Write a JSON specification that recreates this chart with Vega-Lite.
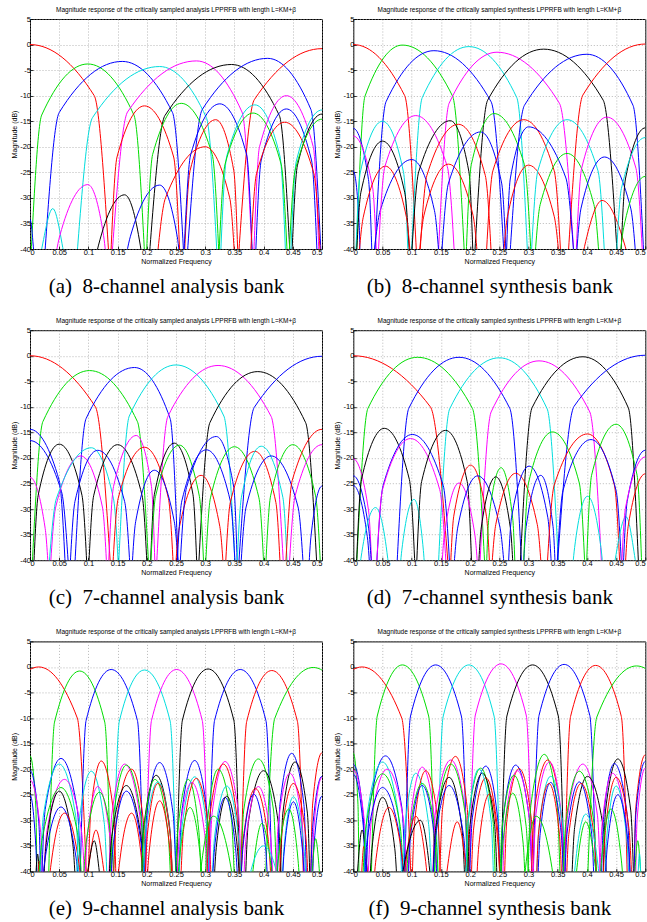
{
"$schema":"https://vega.github.io/schema/vega-lite/v6.json",
"padding":{"left":10,"top":6,"right":0,"bottom":0},
"background":"white",
"spacing":20.2,
"config":{
"view":{"stroke":"#000","strokeWidth":1},
"axis":{"grid":true,"gridDash":[1,2],"gridColor":"#999999","gridWidth":0.7,"domain":false,"tickSize":-3,"tickColor":"#000","tickWidth":0.8,"labelFont":"Liberation Sans","labelFontSize":7.5,"labelColor":"#000","labelPadding":2.5,"titleFont":"Liberation Sans","titleFontSize":7,"titleFontWeight":"normal","titleColor":"#000","titlePadding":2,"labelOverlap":false},
"axisX":{"titlePadding":1},
"title":{"font":"Liberation Sans","fontWeight":"normal","color":"#000"}
},
"datasets":{
"a":[
{"s":1,"c":"r","x":-0.137,"y":-45},{"s":1,"c":"r","x":-0.11,"y":-10},{"s":1,"c":"r","x":0,"y":0},{"s":1,"c":"r","x":0.11,"y":-10},{"s":1,"c":"r","x":0.137,"y":-45},
{"s":2,"c":"g","x":0,"y":-45},{"s":2,"c":"g","x":0.02,"y":-13.8},{"s":2,"c":"g","x":0.099,"y":-3.8},{"s":2,"c":"g","x":0.178,"y":-13.8},{"s":2,"c":"g","x":0.198,"y":-45},
{"s":3,"c":"b","x":0.023,"y":-45},{"s":3,"c":"b","x":0.05,"y":-13.3},{"s":3,"c":"b","x":0.158,"y":-3.3},{"s":3,"c":"b","x":0.244,"y":-13.3},{"s":3,"c":"b","x":0.265,"y":-45},
{"s":4,"c":"c","x":0.078,"y":-45},{"s":4,"c":"c","x":0.107,"y":-14.3},{"s":4,"c":"c","x":0.222,"y":-4.3},{"s":4,"c":"c","x":0.302,"y":-14.3},{"s":4,"c":"c","x":0.322,"y":-45},
{"s":5,"c":"m","x":0.138,"y":-45},{"s":5,"c":"m","x":0.167,"y":-13.2},{"s":5,"c":"m","x":0.285,"y":-3.2},{"s":5,"c":"m","x":0.363,"y":-13.2},{"s":5,"c":"m","x":0.382,"y":-45},
{"s":6,"c":"k","x":0.202,"y":-45},{"s":6,"c":"k","x":0.231,"y":-13.9},{"s":6,"c":"k","x":0.345,"y":-3.9},{"s":6,"c":"k","x":0.427,"y":-13.9},{"s":6,"c":"k","x":0.447,"y":-45},
{"s":7,"c":"b","x":0.267,"y":-45},{"s":7,"c":"b","x":0.295,"y":-12.7},{"s":7,"c":"b","x":0.407,"y":-2.7},{"s":7,"c":"b","x":0.481,"y":-12.7},{"s":7,"c":"b","x":0.5,"y":-45},
{"s":8,"c":"r","x":0.355,"y":-45},{"s":8,"c":"r","x":0.384,"y":-10.8},{"s":8,"c":"r","x":0.5,"y":-0.8},{"s":8,"c":"r","x":0.616,"y":-10.8},{"s":8,"c":"r","x":0.645,"y":-45},
{"s":9,"c":"b","x":-0.012,"y":-45},{"s":9,"c":"b","x":-0.01,"y":-44.2},{"s":9,"c":"b","x":0,"y":-34.2},{"s":9,"c":"b","x":0.01,"y":-44.2},{"s":9,"c":"b","x":0.012,"y":-45},
{"s":10,"c":"c","x":0.01,"y":-45},{"s":10,"c":"c","x":0.016,"y":-42.1},{"s":10,"c":"c","x":0.039,"y":-32.1},{"s":10,"c":"c","x":0.06,"y":-42.1},{"s":10,"c":"c","x":0.065,"y":-45},
{"s":11,"c":"m","x":0.039,"y":-45},{"s":11,"c":"m","x":0.051,"y":-37.4},{"s":11,"c":"m","x":0.099,"y":-27.4},{"s":11,"c":"m","x":0.126,"y":-37.4},{"s":11,"c":"m","x":0.133,"y":-45},
{"s":12,"c":"k","x":0.106,"y":-45},{"s":12,"c":"k","x":0.117,"y":-39.4},{"s":12,"c":"k","x":0.162,"y":-29.4},{"s":12,"c":"k","x":0.189,"y":-39.4},{"s":12,"c":"k","x":0.196,"y":-45},
{"s":13,"c":"b","x":0.159,"y":-45},{"s":13,"c":"b","x":0.172,"y":-37.5},{"s":13,"c":"b","x":0.222,"y":-27.5},{"s":13,"c":"b","x":0.252,"y":-37.5},{"s":13,"c":"b","x":0.259,"y":-45},
{"s":14,"c":"r","x":0.137,"y":-45},{"s":14,"c":"r","x":0.149,"y":-22},{"s":14,"c":"r","x":0.196,"y":-12},{"s":14,"c":"r","x":0.246,"y":-22},{"s":14,"c":"r","x":0.258,"y":-45},
{"s":15,"c":"g","x":0.198,"y":-45},{"s":15,"c":"g","x":0.21,"y":-21.5},{"s":15,"c":"g","x":0.259,"y":-11.5},{"s":15,"c":"g","x":0.312,"y":-21.5},{"s":15,"c":"g","x":0.325,"y":-45},
{"s":16,"c":"r","x":0.215,"y":-45},{"s":16,"c":"r","x":0.232,"y":-30},{"s":16,"c":"r","x":0.3,"y":-20},{"s":16,"c":"r","x":0.342,"y":-30},{"s":16,"c":"r","x":0.352,"y":-45},
{"s":17,"c":"r","x":0.263,"y":-45},{"s":17,"c":"r","x":0.274,"y":-24.7},{"s":17,"c":"r","x":0.318,"y":-14.7},{"s":17,"c":"r","x":0.349,"y":-24.7},{"s":17,"c":"r","x":0.357,"y":-45},
{"s":18,"c":"b","x":0.262,"y":-45},{"s":18,"c":"b","x":0.275,"y":-21.6},{"s":18,"c":"b","x":0.325,"y":-11.6},{"s":18,"c":"b","x":0.371,"y":-21.6},{"s":18,"c":"b","x":0.382,"y":-45},
{"s":19,"c":"c","x":0.325,"y":-45},{"s":19,"c":"c","x":0.337,"y":-21.8},{"s":19,"c":"c","x":0.385,"y":-11.8},{"s":19,"c":"c","x":0.428,"y":-21.8},{"s":19,"c":"c","x":0.439,"y":-45},
{"s":20,"c":"g","x":0.322,"y":-45},{"s":20,"c":"g","x":0.334,"y":-23.4},{"s":20,"c":"g","x":0.382,"y":-13.4},{"s":20,"c":"g","x":0.43,"y":-23.4},{"s":20,"c":"g","x":0.442,"y":-45},
{"s":21,"c":"m","x":0.382,"y":-45},{"s":21,"c":"m","x":0.393,"y":-20},{"s":21,"c":"m","x":0.439,"y":-10},{"s":21,"c":"m","x":0.485,"y":-20},{"s":21,"c":"m","x":0.496,"y":-45},
{"s":22,"c":"b","x":0.385,"y":-45},{"s":22,"c":"b","x":0.396,"y":-22.6},{"s":22,"c":"b","x":0.439,"y":-12.6},{"s":22,"c":"b","x":0.482,"y":-22.6},{"s":22,"c":"b","x":0.493,"y":-45},
{"s":23,"c":"r","x":0.376,"y":-45},{"s":23,"c":"r","x":0.388,"y":-25.2},{"s":23,"c":"r","x":0.436,"y":-15.2},{"s":23,"c":"r","x":0.486,"y":-25.2},{"s":23,"c":"r","x":0.499,"y":-45},
{"s":24,"c":"k","x":0.447,"y":-45},{"s":24,"c":"k","x":0.458,"y":-23.6},{"s":24,"c":"k","x":0.5,"y":-13.6},{"s":24,"c":"k","x":0.542,"y":-23.6},{"s":24,"c":"k","x":0.553,"y":-45},
{"s":25,"c":"c","x":0.445,"y":-45},{"s":25,"c":"c","x":0.456,"y":-22.8},{"s":25,"c":"c","x":0.5,"y":-12.8},{"s":25,"c":"c","x":0.544,"y":-22.8},{"s":25,"c":"c","x":0.555,"y":-45},
{"s":26,"c":"g","x":0.442,"y":-45},{"s":26,"c":"g","x":0.454,"y":-24.6},{"s":26,"c":"g","x":0.5,"y":-14.6},{"s":26,"c":"g","x":0.546,"y":-24.6},{"s":26,"c":"g","x":0.558,"y":-45}
],
"b":[
{"s":1,"c":"r","x":-0.11,"y":-45},{"s":1,"c":"r","x":-0.088,"y":-10},{"s":1,"c":"r","x":0,"y":0},{"s":1,"c":"r","x":0.088,"y":-10},{"s":1,"c":"r","x":0.11,"y":-45},
{"s":2,"c":"g","x":0.004,"y":-45},{"s":2,"c":"g","x":0.02,"y":-10.1},{"s":2,"c":"g","x":0.084,"y":-0.1},{"s":2,"c":"g","x":0.17,"y":-10.1},{"s":2,"c":"g","x":0.192,"y":-45},
{"s":3,"c":"b","x":0.035,"y":-45},{"s":3,"c":"b","x":0.056,"y":-11.2},{"s":3,"c":"b","x":0.138,"y":-1.2},{"s":3,"c":"b","x":0.236,"y":-11.2},{"s":3,"c":"b","x":0.26,"y":-45},
{"s":4,"c":"c","x":0.098,"y":-45},{"s":4,"c":"c","x":0.118,"y":-10.4},{"s":4,"c":"c","x":0.198,"y":-0.4},{"s":4,"c":"c","x":0.28,"y":-10.4},{"s":4,"c":"c","x":0.3,"y":-45},
{"s":5,"c":"m","x":0.144,"y":-45},{"s":5,"c":"m","x":0.164,"y":-11.5},{"s":5,"c":"m","x":0.246,"y":-1.5},{"s":5,"c":"m","x":0.353,"y":-11.5},{"s":5,"c":"m","x":0.38,"y":-45},
{"s":6,"c":"k","x":0.206,"y":-45},{"s":6,"c":"k","x":0.23,"y":-10.9},{"s":6,"c":"k","x":0.326,"y":-0.9},{"s":6,"c":"k","x":0.428,"y":-10.9},{"s":6,"c":"k","x":0.454,"y":-45},
{"s":7,"c":"b","x":0.266,"y":-45},{"s":7,"c":"b","x":0.293,"y":-11.9},{"s":7,"c":"b","x":0.4,"y":-1.9},{"s":7,"c":"b","x":0.479,"y":-11.9},{"s":7,"c":"b","x":0.499,"y":-45},
{"s":8,"c":"r","x":0.366,"y":-45},{"s":8,"c":"r","x":0.393,"y":-9.9},{"s":8,"c":"r","x":0.5,"y":0.1},{"s":8,"c":"r","x":0.607,"y":-9.9},{"s":8,"c":"r","x":0.634,"y":-45},
{"s":9,"c":"b","x":-0.033,"y":-45},{"s":9,"c":"b","x":-0.026,"y":-26.4},{"s":9,"c":"b","x":0,"y":-16.4},{"s":9,"c":"b","x":0.026,"y":-26.4},{"s":9,"c":"b","x":0.033,"y":-45},
{"s":10,"c":"b","x":-0.012,"y":-45},{"s":10,"c":"b","x":-0.01,"y":-34.8},{"s":10,"c":"b","x":0,"y":-24.8},{"s":10,"c":"b","x":0.01,"y":-34.8},{"s":10,"c":"b","x":0.012,"y":-45},
{"s":11,"c":"m","x":-0.041,"y":-45},{"s":11,"c":"m","x":-0.033,"y":-27.9},{"s":11,"c":"m","x":0,"y":-17.9},{"s":11,"c":"m","x":0.033,"y":-27.9},{"s":11,"c":"m","x":0.041,"y":-45},
{"s":12,"c":"c","x":0.003,"y":-45},{"s":12,"c":"c","x":0.012,"y":-25},{"s":12,"c":"c","x":0.05,"y":-15},{"s":12,"c":"c","x":0.086,"y":-25},{"s":12,"c":"c","x":0.095,"y":-45},
{"s":13,"c":"k","x":0.004,"y":-45},{"s":13,"c":"k","x":0.013,"y":-28.9},{"s":13,"c":"k","x":0.05,"y":-18.9},{"s":13,"c":"k","x":0.088,"y":-28.9},{"s":13,"c":"k","x":0.098,"y":-45},
{"s":14,"c":"r","x":0.007,"y":-45},{"s":14,"c":"r","x":0.017,"y":-33.8},{"s":14,"c":"r","x":0.055,"y":-23.8},{"s":14,"c":"r","x":0.091,"y":-33.8},{"s":14,"c":"r","x":0.1,"y":-45},
{"s":15,"c":"b","x":0.032,"y":-45},{"s":15,"c":"b","x":0.046,"y":-32.5},{"s":15,"c":"b","x":0.1,"y":-22.5},{"s":15,"c":"b","x":0.139,"y":-32.5},{"s":15,"c":"b","x":0.149,"y":-45},
{"s":16,"c":"m","x":0.041,"y":-45},{"s":16,"c":"m","x":0.054,"y":-23.9},{"s":16,"c":"m","x":0.107,"y":-13.9},{"s":16,"c":"m","x":0.161,"y":-23.9},{"s":16,"c":"m","x":0.175,"y":-45},
{"s":17,"c":"k","x":0.098,"y":-45},{"s":17,"c":"k","x":0.112,"y":-24.9},{"s":17,"c":"k","x":0.166,"y":-14.9},{"s":17,"c":"k","x":0.198,"y":-24.9},{"s":17,"c":"k","x":0.206,"y":-45},
{"s":18,"c":"r","x":0.112,"y":-45},{"s":18,"c":"r","x":0.126,"y":-25.6},{"s":18,"c":"r","x":0.18,"y":-15.6},{"s":18,"c":"r","x":0.226,"y":-25.6},{"s":18,"c":"r","x":0.238,"y":-45},
{"s":19,"c":"r","x":0.11,"y":-45},{"s":19,"c":"r","x":0.121,"y":-33.4},{"s":19,"c":"r","x":0.163,"y":-23.4},{"s":19,"c":"r","x":0.205,"y":-33.4},{"s":19,"c":"r","x":0.215,"y":-45},
{"s":20,"c":"b","x":0.149,"y":-45},{"s":20,"c":"b","x":0.163,"y":-27.1},{"s":20,"c":"b","x":0.218,"y":-17.1},{"s":20,"c":"b","x":0.254,"y":-27.1},{"s":20,"c":"b","x":0.263,"y":-45},
{"s":21,"c":"g","x":0.192,"y":-45},{"s":21,"c":"g","x":0.202,"y":-23.5},{"s":21,"c":"g","x":0.241,"y":-13.5},{"s":21,"c":"g","x":0.293,"y":-23.5},{"s":21,"c":"g","x":0.306,"y":-45},
{"s":22,"c":"r","x":0.226,"y":-45},{"s":22,"c":"r","x":0.239,"y":-24.7},{"s":22,"c":"r","x":0.292,"y":-14.7},{"s":22,"c":"r","x":0.344,"y":-24.7},{"s":22,"c":"r","x":0.357,"y":-45},
{"s":23,"c":"b","x":0.261,"y":-45},{"s":23,"c":"b","x":0.269,"y":-26.1},{"s":23,"c":"b","x":0.3,"y":-16.1},{"s":23,"c":"b","x":0.364,"y":-26.1},{"s":23,"c":"b","x":0.38,"y":-45},
{"s":24,"c":"r","x":0.255,"y":-45},{"s":24,"c":"r","x":0.264,"y":-33.6},{"s":24,"c":"r","x":0.3,"y":-23.6},{"s":24,"c":"r","x":0.344,"y":-33.6},{"s":24,"c":"r","x":0.355,"y":-45},
{"s":25,"c":"c","x":0.303,"y":-45},{"s":25,"c":"c","x":0.316,"y":-24.7},{"s":25,"c":"c","x":0.366,"y":-14.7},{"s":25,"c":"c","x":0.419,"y":-24.7},{"s":25,"c":"c","x":0.432,"y":-45},
{"s":26,"c":"g","x":0.309,"y":-45},{"s":26,"c":"g","x":0.32,"y":-31.3},{"s":26,"c":"g","x":0.366,"y":-21.3},{"s":26,"c":"g","x":0.412,"y":-31.3},{"s":26,"c":"g","x":0.423,"y":-45},
{"s":27,"c":"m","x":0.38,"y":-45},{"s":27,"c":"m","x":0.391,"y":-24.2},{"s":27,"c":"m","x":0.434,"y":-14.2},{"s":27,"c":"m","x":0.484,"y":-24.2},{"s":27,"c":"m","x":0.497,"y":-45},
{"s":28,"c":"b","x":0.38,"y":-45},{"s":28,"c":"b","x":0.39,"y":-32},{"s":28,"c":"b","x":0.43,"y":-22},{"s":28,"c":"b","x":0.475,"y":-32},{"s":28,"c":"b","x":0.486,"y":-45},
{"s":29,"c":"r","x":0.386,"y":-45},{"s":29,"c":"r","x":0.394,"y":-40.5},{"s":29,"c":"r","x":0.426,"y":-30.5},{"s":29,"c":"r","x":0.468,"y":-40.5},{"s":29,"c":"r","x":0.478,"y":-45},
{"s":30,"c":"k","x":0.457,"y":-45},{"s":30,"c":"k","x":0.466,"y":-26.3},{"s":30,"c":"k","x":0.5,"y":-16.3},{"s":30,"c":"k","x":0.534,"y":-26.3},{"s":30,"c":"k","x":0.543,"y":-45},
{"s":31,"c":"c","x":0.449,"y":-45},{"s":31,"c":"c","x":0.459,"y":-28.2},{"s":31,"c":"c","x":0.5,"y":-18.2},{"s":31,"c":"c","x":0.541,"y":-28.2},{"s":31,"c":"c","x":0.551,"y":-45},
{"s":32,"c":"g","x":0.454,"y":-45},{"s":32,"c":"g","x":0.463,"y":-35.8},{"s":32,"c":"g","x":0.5,"y":-25.8},{"s":32,"c":"g","x":0.537,"y":-35.8},{"s":32,"c":"g","x":0.546,"y":-45}
],
"c":[
{"s":1,"c":"r","x":-0.14,"y":-45},{"s":1,"c":"r","x":-0.112,"y":-10},{"s":1,"c":"r","x":0,"y":0},{"s":1,"c":"r","x":0.112,"y":-10},{"s":1,"c":"r","x":0.14,"y":-45},
{"s":2,"c":"g","x":0.002,"y":-45},{"s":2,"c":"g","x":0.022,"y":-12.9},{"s":2,"c":"g","x":0.102,"y":-2.9},{"s":2,"c":"g","x":0.184,"y":-12.9},{"s":2,"c":"g","x":0.205,"y":-45},
{"s":3,"c":"b","x":0.075,"y":-45},{"s":3,"c":"b","x":0.096,"y":-12.3},{"s":3,"c":"b","x":0.179,"y":-2.3},{"s":3,"c":"b","x":0.24,"y":-12.3},{"s":3,"c":"b","x":0.255,"y":-45},
{"s":4,"c":"c","x":0.15,"y":-45},{"s":4,"c":"c","x":0.17,"y":-11.8},{"s":4,"c":"c","x":0.25,"y":-1.8},{"s":4,"c":"c","x":0.332,"y":-11.8},{"s":4,"c":"c","x":0.353,"y":-45},
{"s":5,"c":"m","x":0.215,"y":-45},{"s":5,"c":"m","x":0.236,"y":-11.9},{"s":5,"c":"m","x":0.322,"y":-1.9},{"s":5,"c":"m","x":0.413,"y":-11.9},{"s":5,"c":"m","x":0.436,"y":-45},
{"s":6,"c":"k","x":0.287,"y":-45},{"s":6,"c":"k","x":0.308,"y":-13.1},{"s":6,"c":"k","x":0.39,"y":-3.1},{"s":6,"c":"k","x":0.472,"y":-13.1},{"s":6,"c":"k","x":0.493,"y":-45},
{"s":7,"c":"b","x":0.355,"y":-45},{"s":7,"c":"b","x":0.384,"y":-10.1},{"s":7,"c":"b","x":0.5,"y":-0.1},{"s":7,"c":"b","x":0.616,"y":-10.1},{"s":7,"c":"b","x":0.645,"y":-45},
{"s":8,"c":"b","x":-0.062,"y":-45},{"s":8,"c":"b","x":-0.05,"y":-24.4},{"s":8,"c":"b","x":0,"y":-14.4},{"s":8,"c":"b","x":0.05,"y":-24.4},{"s":8,"c":"b","x":0.062,"y":-45},
{"s":9,"c":"b","x":-0.068,"y":-45},{"s":9,"c":"b","x":-0.054,"y":-26.6},{"s":9,"c":"b","x":0,"y":-16.6},{"s":9,"c":"b","x":0.054,"y":-26.6},{"s":9,"c":"b","x":0.068,"y":-45},
{"s":10,"c":"m","x":-0.033,"y":-45},{"s":10,"c":"m","x":-0.026,"y":-33.8},{"s":10,"c":"m","x":0,"y":-23.8},{"s":10,"c":"m","x":0.026,"y":-33.8},{"s":10,"c":"m","x":0.033,"y":-45},
{"s":11,"c":"k","x":0.005,"y":-45},{"s":11,"c":"k","x":0.014,"y":-27.3},{"s":11,"c":"k","x":0.05,"y":-17.3},{"s":11,"c":"k","x":0.089,"y":-27.3},{"s":11,"c":"k","x":0.099,"y":-45},
{"s":12,"c":"m","x":0.033,"y":-45},{"s":12,"c":"m","x":0.044,"y":-29.6},{"s":12,"c":"m","x":0.087,"y":-19.6},{"s":12,"c":"m","x":0.124,"y":-29.6},{"s":12,"c":"m","x":0.133,"y":-45},
{"s":13,"c":"c","x":0.03,"y":-45},{"s":13,"c":"c","x":0.045,"y":-28},{"s":13,"c":"c","x":0.105,"y":-18},{"s":13,"c":"c","x":0.143,"y":-28},{"s":13,"c":"c","x":0.153,"y":-45},
{"s":14,"c":"b","x":0.067,"y":-45},{"s":14,"c":"b","x":0.077,"y":-28.5},{"s":14,"c":"b","x":0.116,"y":-18.5},{"s":14,"c":"b","x":0.162,"y":-28.5},{"s":14,"c":"b","x":0.173,"y":-45},
{"s":15,"c":"k","x":0.099,"y":-45},{"s":15,"c":"k","x":0.109,"y":-27.4},{"s":15,"c":"k","x":0.15,"y":-17.4},{"s":15,"c":"k","x":0.192,"y":-27.4},{"s":15,"c":"k","x":0.202,"y":-45},
{"s":16,"c":"m","x":0.133,"y":-45},{"s":16,"c":"m","x":0.143,"y":-25.6},{"s":16,"c":"m","x":0.182,"y":-15.6},{"s":16,"c":"m","x":0.208,"y":-25.6},{"s":16,"c":"m","x":0.215,"y":-45},
{"s":17,"c":"r","x":0.14,"y":-45},{"s":17,"c":"r","x":0.151,"y":-27.9},{"s":17,"c":"r","x":0.196,"y":-17.9},{"s":17,"c":"r","x":0.237,"y":-27.9},{"s":17,"c":"r","x":0.247,"y":-45},
{"s":18,"c":"b","x":0.173,"y":-45},{"s":18,"c":"b","x":0.181,"y":-32.4},{"s":18,"c":"b","x":0.213,"y":-22.4},{"s":18,"c":"b","x":0.247,"y":-32.4},{"s":18,"c":"b","x":0.256,"y":-45},
{"s":19,"c":"k","x":0.205,"y":-45},{"s":19,"c":"k","x":0.213,"y":-27.1},{"s":19,"c":"k","x":0.247,"y":-17.1},{"s":19,"c":"k","x":0.279,"y":-27.1},{"s":19,"c":"k","x":0.287,"y":-45},
{"s":20,"c":"g","x":0.205,"y":-45},{"s":20,"c":"g","x":0.215,"y":-27.5},{"s":20,"c":"g","x":0.256,"y":-17.5},{"s":20,"c":"g","x":0.29,"y":-27.5},{"s":20,"c":"g","x":0.299,"y":-45},
{"s":21,"c":"r","x":0.247,"y":-45},{"s":21,"c":"r","x":0.256,"y":-33.4},{"s":21,"c":"r","x":0.293,"y":-23.4},{"s":21,"c":"r","x":0.325,"y":-33.4},{"s":21,"c":"r","x":0.333,"y":-45},
{"s":22,"c":"b","x":0.255,"y":-45},{"s":22,"c":"b","x":0.268,"y":-25.8},{"s":22,"c":"b","x":0.319,"y":-15.8},{"s":22,"c":"b","x":0.349,"y":-25.8},{"s":22,"c":"b","x":0.356,"y":-45},
{"s":23,"c":"b","x":0.25,"y":-45},{"s":23,"c":"b","x":0.26,"y":-28.4},{"s":23,"c":"b","x":0.302,"y":-18.4},{"s":23,"c":"b","x":0.343,"y":-28.4},{"s":23,"c":"b","x":0.353,"y":-45},
{"s":24,"c":"g","x":0.299,"y":-45},{"s":24,"c":"g","x":0.309,"y":-27.8},{"s":24,"c":"g","x":0.35,"y":-17.8},{"s":24,"c":"g","x":0.392,"y":-27.8},{"s":24,"c":"g","x":0.402,"y":-45},
{"s":25,"c":"r","x":0.333,"y":-45},{"s":25,"c":"r","x":0.343,"y":-28.7},{"s":25,"c":"r","x":0.385,"y":-18.7},{"s":25,"c":"r","x":0.421,"y":-28.7},{"s":25,"c":"r","x":0.43,"y":-45},
{"s":26,"c":"c","x":0.353,"y":-45},{"s":26,"c":"c","x":0.362,"y":-27.7},{"s":26,"c":"c","x":0.396,"y":-17.7},{"s":26,"c":"c","x":0.433,"y":-27.7},{"s":26,"c":"c","x":0.442,"y":-45},
{"s":27,"c":"b","x":0.359,"y":-45},{"s":27,"c":"b","x":0.37,"y":-29.6},{"s":27,"c":"b","x":0.413,"y":-19.6},{"s":27,"c":"b","x":0.459,"y":-29.6},{"s":27,"c":"b","x":0.47,"y":-45},
{"s":28,"c":"g","x":0.402,"y":-45},{"s":28,"c":"g","x":0.412,"y":-27.4},{"s":28,"c":"g","x":0.45,"y":-17.4},{"s":28,"c":"g","x":0.489,"y":-27.4},{"s":28,"c":"g","x":0.499,"y":-45},
{"s":29,"c":"r","x":0.436,"y":-45},{"s":29,"c":"r","x":0.449,"y":-24.4},{"s":29,"c":"r","x":0.5,"y":-14.4},{"s":29,"c":"r","x":0.551,"y":-24.4},{"s":29,"c":"r","x":0.564,"y":-45},
{"s":30,"c":"m","x":0.442,"y":-45},{"s":30,"c":"m","x":0.454,"y":-27.4},{"s":30,"c":"m","x":0.5,"y":-17.4},{"s":30,"c":"m","x":0.546,"y":-27.4},{"s":30,"c":"m","x":0.558,"y":-45},
{"s":31,"c":"b","x":0.476,"y":-45},{"s":31,"c":"b","x":0.481,"y":-35.5},{"s":31,"c":"b","x":0.5,"y":-25.5},{"s":31,"c":"b","x":0.519,"y":-35.5},{"s":31,"c":"b","x":0.524,"y":-45}
],
"d":[
{"s":1,"c":"r","x":-0.165,"y":-45},{"s":1,"c":"r","x":-0.132,"y":-10},{"s":1,"c":"r","x":0,"y":0},{"s":1,"c":"r","x":0.132,"y":-10},{"s":1,"c":"r","x":0.165,"y":-45},
{"s":2,"c":"g","x":0.004,"y":-45},{"s":2,"c":"g","x":0.025,"y":-10.3},{"s":2,"c":"g","x":0.11,"y":-0.3},{"s":2,"c":"g","x":0.204,"y":-10.3},{"s":2,"c":"g","x":0.227,"y":-45},
{"s":3,"c":"b","x":0.073,"y":-45},{"s":3,"c":"b","x":0.095,"y":-10.3},{"s":3,"c":"b","x":0.181,"y":-0.3},{"s":3,"c":"b","x":0.268,"y":-10.3},{"s":3,"c":"b","x":0.29,"y":-45},
{"s":4,"c":"c","x":0.144,"y":-45},{"s":4,"c":"c","x":0.165,"y":-10.4},{"s":4,"c":"c","x":0.25,"y":-0.4},{"s":4,"c":"c","x":0.332,"y":-10.4},{"s":4,"c":"c","x":0.353,"y":-45},
{"s":5,"c":"m","x":0.215,"y":-45},{"s":5,"c":"m","x":0.236,"y":-11},{"s":5,"c":"m","x":0.318,"y":-1},{"s":5,"c":"m","x":0.405,"y":-11},{"s":5,"c":"m","x":0.427,"y":-45},
{"s":6,"c":"k","x":0.284,"y":-45},{"s":6,"c":"k","x":0.306,"y":-10.2},{"s":6,"c":"k","x":0.393,"y":-0.2},{"s":6,"c":"k","x":0.471,"y":-10.2},{"s":6,"c":"k","x":0.49,"y":-45},
{"s":7,"c":"b","x":0.347,"y":-45},{"s":7,"c":"b","x":0.378,"y":-9.9},{"s":7,"c":"b","x":0.5,"y":0.1},{"s":7,"c":"b","x":0.622,"y":-9.9},{"s":7,"c":"b","x":0.653,"y":-45},
{"s":8,"c":"m","x":-0.033,"y":-45},{"s":8,"c":"m","x":-0.026,"y":-30.2},{"s":8,"c":"m","x":0,"y":-20.2},{"s":8,"c":"m","x":0.026,"y":-30.2},{"s":8,"c":"m","x":0.033,"y":-45},
{"s":9,"c":"b","x":-0.033,"y":-45},{"s":9,"c":"b","x":-0.026,"y":-33.5},{"s":9,"c":"b","x":0,"y":-23.5},{"s":9,"c":"b","x":0.026,"y":-33.5},{"s":9,"c":"b","x":0.033,"y":-45},
{"s":10,"c":"b","x":-0.03,"y":-45},{"s":10,"c":"b","x":-0.024,"y":-35.4},{"s":10,"c":"b","x":0,"y":-25.4},{"s":10,"c":"b","x":0.024,"y":-35.4},{"s":10,"c":"b","x":0.03,"y":-45},
{"s":11,"c":"k","x":0.004,"y":-45},{"s":11,"c":"k","x":0.014,"y":-24.2},{"s":11,"c":"k","x":0.053,"y":-14.2},{"s":11,"c":"k","x":0.096,"y":-24.2},{"s":11,"c":"k","x":0.107,"y":-45},
{"s":12,"c":"c","x":0.007,"y":-45},{"s":12,"c":"c","x":0.013,"y":-39.7},{"s":12,"c":"c","x":0.038,"y":-29.7},{"s":12,"c":"c","x":0.059,"y":-39.7},{"s":12,"c":"c","x":0.064,"y":-45},
{"s":13,"c":"b","x":0.038,"y":-45},{"s":13,"c":"b","x":0.051,"y":-25.4},{"s":13,"c":"b","x":0.101,"y":-15.4},{"s":13,"c":"b","x":0.154,"y":-25.4},{"s":13,"c":"b","x":0.167,"y":-45},
{"s":14,"c":"m","x":0.038,"y":-45},{"s":14,"c":"m","x":0.05,"y":-26.2},{"s":14,"c":"m","x":0.098,"y":-16.2},{"s":14,"c":"m","x":0.148,"y":-26.2},{"s":14,"c":"m","x":0.161,"y":-45},
{"s":15,"c":"c","x":0.078,"y":-45},{"s":15,"c":"c","x":0.083,"y":-38.1},{"s":15,"c":"c","x":0.104,"y":-28.1},{"s":15,"c":"c","x":0.12,"y":-38.1},{"s":15,"c":"c","x":0.124,"y":-45},
{"s":16,"c":"k","x":0.107,"y":-45},{"s":16,"c":"k","x":0.117,"y":-24.6},{"s":16,"c":"k","x":0.158,"y":-14.6},{"s":16,"c":"k","x":0.195,"y":-24.6},{"s":16,"c":"k","x":0.204,"y":-45},
{"s":17,"c":"m","x":0.15,"y":-45},{"s":17,"c":"m","x":0.156,"y":-34.9},{"s":17,"c":"m","x":0.181,"y":-24.9},{"s":17,"c":"m","x":0.208,"y":-34.9},{"s":17,"c":"m","x":0.215,"y":-45},
{"s":18,"c":"r","x":0.165,"y":-45},{"s":18,"c":"r","x":0.172,"y":-31.4},{"s":18,"c":"r","x":0.201,"y":-21.4},{"s":18,"c":"r","x":0.228,"y":-31.4},{"s":18,"c":"r","x":0.235,"y":-45},
{"s":19,"c":"b","x":0.17,"y":-45},{"s":19,"c":"b","x":0.179,"y":-33.5},{"s":19,"c":"b","x":0.213,"y":-23.5},{"s":19,"c":"b","x":0.251,"y":-33.5},{"s":19,"c":"b","x":0.261,"y":-45},
{"s":20,"c":"g","x":0.227,"y":-45},{"s":20,"c":"g","x":0.232,"y":-31.9},{"s":20,"c":"g","x":0.253,"y":-21.9},{"s":20,"c":"g","x":0.273,"y":-31.9},{"s":20,"c":"g","x":0.278,"y":-45},
{"s":21,"c":"k","x":0.213,"y":-45},{"s":21,"c":"k","x":0.219,"y":-33.7},{"s":21,"c":"k","x":0.244,"y":-23.7},{"s":21,"c":"k","x":0.269,"y":-33.7},{"s":21,"c":"k","x":0.275,"y":-45},
{"s":22,"c":"r","x":0.235,"y":-45},{"s":22,"c":"r","x":0.244,"y":-33},{"s":22,"c":"r","x":0.278,"y":-23},{"s":22,"c":"r","x":0.315,"y":-33},{"s":22,"c":"r","x":0.324,"y":-45},
{"s":23,"c":"b","x":0.264,"y":-45},{"s":23,"c":"b","x":0.271,"y":-31.6},{"s":23,"c":"b","x":0.301,"y":-21.6},{"s":23,"c":"b","x":0.333,"y":-31.6},{"s":23,"c":"b","x":0.341,"y":-45},
{"s":24,"c":"b","x":0.29,"y":-45},{"s":24,"c":"b","x":0.296,"y":-33.4},{"s":24,"c":"b","x":0.321,"y":-23.4},{"s":24,"c":"b","x":0.342,"y":-33.4},{"s":24,"c":"b","x":0.347,"y":-45},
{"s":25,"c":"g","x":0.29,"y":-45},{"s":25,"c":"g","x":0.3,"y":-24.9},{"s":25,"c":"g","x":0.341,"y":-14.9},{"s":25,"c":"g","x":0.387,"y":-24.9},{"s":25,"c":"g","x":0.398,"y":-45},
{"s":26,"c":"r","x":0.33,"y":-45},{"s":26,"c":"r","x":0.344,"y":-25.3},{"s":26,"c":"r","x":0.401,"y":-15.3},{"s":26,"c":"r","x":0.447,"y":-25.3},{"s":26,"c":"r","x":0.458,"y":-45},
{"s":27,"c":"b","x":0.347,"y":-45},{"s":27,"c":"b","x":0.359,"y":-26.4},{"s":27,"c":"b","x":0.407,"y":-16.4},{"s":27,"c":"b","x":0.45,"y":-26.4},{"s":27,"c":"b","x":0.461,"y":-45},
{"s":28,"c":"c","x":0.373,"y":-45},{"s":28,"c":"c","x":0.379,"y":-37.5},{"s":28,"c":"c","x":0.401,"y":-27.5},{"s":28,"c":"c","x":0.424,"y":-37.5},{"s":28,"c":"c","x":0.43,"y":-45},
{"s":29,"c":"g","x":0.398,"y":-45},{"s":29,"c":"g","x":0.408,"y":-23.4},{"s":29,"c":"g","x":0.45,"y":-13.4},{"s":29,"c":"g","x":0.486,"y":-23.4},{"s":29,"c":"g","x":0.495,"y":-45},
{"s":30,"c":"c","x":0.441,"y":-45},{"s":30,"c":"c","x":0.446,"y":-41.5},{"s":30,"c":"c","x":0.467,"y":-31.5},{"s":30,"c":"c","x":0.485,"y":-41.5},{"s":30,"c":"c","x":0.49,"y":-45},
{"s":31,"c":"b","x":0.461,"y":-45},{"s":31,"c":"b","x":0.469,"y":-28.5},{"s":31,"c":"b","x":0.5,"y":-18.5},{"s":31,"c":"b","x":0.531,"y":-28.5},{"s":31,"c":"b","x":0.539,"y":-45},
{"s":32,"c":"m","x":0.458,"y":-45},{"s":32,"c":"m","x":0.466,"y":-29.8},{"s":32,"c":"m","x":0.5,"y":-19.8},{"s":32,"c":"m","x":0.534,"y":-29.8},{"s":32,"c":"m","x":0.542,"y":-45},
{"s":33,"c":"r","x":0.464,"y":-45},{"s":33,"c":"r","x":0.471,"y":-33.1},{"s":33,"c":"r","x":0.5,"y":-23.1},{"s":33,"c":"r","x":0.529,"y":-33.1},{"s":33,"c":"r","x":0.536,"y":-45}
],
"e":[
{"s":1,"c":"r","x":-0.07,"y":-45},{"s":1,"c":"r","x":-0.053,"y":-10},{"s":1,"c":"r","x":0.015,"y":0},{"s":1,"c":"r","x":0.081,"y":-10},{"s":1,"c":"r","x":0.098,"y":-45},
{"s":2,"c":"g","x":0.031,"y":-45},{"s":2,"c":"g","x":0.042,"y":-10.8},{"s":2,"c":"g","x":0.085,"y":-0.8},{"s":2,"c":"g","x":0.128,"y":-10.8},{"s":2,"c":"g","x":0.139,"y":-45},
{"s":3,"c":"b","x":0.085,"y":-45},{"s":3,"c":"b","x":0.096,"y":-10.5},{"s":3,"c":"b","x":0.139,"y":-0.5},{"s":3,"c":"b","x":0.184,"y":-10.5},{"s":3,"c":"b","x":0.195,"y":-45},
{"s":4,"c":"c","x":0.142,"y":-45},{"s":4,"c":"c","x":0.153,"y":-10.6},{"s":4,"c":"c","x":0.196,"y":-0.6},{"s":4,"c":"c","x":0.24,"y":-10.6},{"s":4,"c":"c","x":0.251,"y":-45},
{"s":5,"c":"m","x":0.197,"y":-45},{"s":5,"c":"m","x":0.208,"y":-10.5},{"s":5,"c":"m","x":0.251,"y":-0.5},{"s":5,"c":"m","x":0.295,"y":-10.5},{"s":5,"c":"m","x":0.306,"y":-45},
{"s":6,"c":"k","x":0.25,"y":-45},{"s":6,"c":"k","x":0.261,"y":-10.4},{"s":6,"c":"k","x":0.305,"y":-0.4},{"s":6,"c":"k","x":0.349,"y":-10.4},{"s":6,"c":"k","x":0.36,"y":-45},
{"s":7,"c":"b","x":0.305,"y":-45},{"s":7,"c":"b","x":0.316,"y":-10.5},{"s":7,"c":"b","x":0.36,"y":-0.5},{"s":7,"c":"b","x":0.404,"y":-10.5},{"s":7,"c":"b","x":0.415,"y":-45},
{"s":8,"c":"r","x":0.36,"y":-45},{"s":8,"c":"r","x":0.371,"y":-10.7},{"s":8,"c":"r","x":0.414,"y":-0.7},{"s":8,"c":"r","x":0.458,"y":-10.7},{"s":8,"c":"r","x":0.469,"y":-45},
{"s":9,"c":"g","x":0.402,"y":-45},{"s":9,"c":"g","x":0.419,"y":-10.1},{"s":9,"c":"g","x":0.485,"y":-0.1},{"s":9,"c":"g","x":0.551,"y":-10.1},{"s":9,"c":"g","x":0.568,"y":-45},
{"s":10,"c":"g","x":-0.012,"y":-45},{"s":10,"c":"g","x":-0.01,"y":-27.4},{"s":10,"c":"g","x":0,"y":-17.4},{"s":10,"c":"g","x":0.01,"y":-27.4},{"s":10,"c":"g","x":0.012,"y":-45},
{"s":11,"c":"b","x":-0.019,"y":-45},{"s":11,"c":"b","x":-0.015,"y":-30.3},{"s":11,"c":"b","x":0,"y":-20.3},{"s":11,"c":"b","x":0.015,"y":-30.3},{"s":11,"c":"b","x":0.019,"y":-45},
{"s":12,"c":"m","x":-0.022,"y":-45},{"s":12,"c":"m","x":-0.018,"y":-32.1},{"s":12,"c":"m","x":0,"y":-22.1},{"s":12,"c":"m","x":0.018,"y":-32.1},{"s":12,"c":"m","x":0.022,"y":-45},
{"s":13,"c":"b","x":-0.013,"y":-45},{"s":13,"c":"b","x":-0.01,"y":-35.1},{"s":13,"c":"b","x":0,"y":-25.1},{"s":13,"c":"b","x":0.01,"y":-35.1},{"s":13,"c":"b","x":0.013,"y":-45},
{"s":14,"c":"k","x":0.006,"y":-45},{"s":14,"c":"k","x":0.008,"y":-44},{"s":14,"c":"k","x":0.013,"y":-36.6},{"s":14,"c":"k","x":0.018,"y":-44},{"s":14,"c":"k","x":0.02,"y":-45},
{"s":15,"c":"r","x":0.01,"y":-45},{"s":15,"c":"r","x":0.012,"y":-44},{"s":15,"c":"r","x":0.016,"y":-38},{"s":15,"c":"r","x":0.02,"y":-44},{"s":15,"c":"r","x":0.022,"y":-45},
{"s":16,"c":"b","x":0.019,"y":-45},{"s":16,"c":"b","x":0.026,"y":-27.9},{"s":16,"c":"b","x":0.053,"y":-17.9},{"s":16,"c":"b","x":0.081,"y":-27.9},{"s":16,"c":"b","x":0.088,"y":-45},
{"s":17,"c":"c","x":0.016,"y":-45},{"s":17,"c":"c","x":0.023,"y":-29},{"s":17,"c":"c","x":0.05,"y":-19},{"s":17,"c":"c","x":0.078,"y":-29},{"s":17,"c":"c","x":0.085,"y":-45},
{"s":18,"c":"m","x":0.022,"y":-45},{"s":18,"c":"m","x":0.029,"y":-32},{"s":18,"c":"m","x":0.059,"y":-22},{"s":18,"c":"m","x":0.088,"y":-32},{"s":18,"c":"m","x":0.095,"y":-45},
{"s":19,"c":"k","x":0.022,"y":-45},{"s":19,"c":"k","x":0.028,"y":-34.3},{"s":19,"c":"k","x":0.05,"y":-24.3},{"s":19,"c":"k","x":0.073,"y":-34.3},{"s":19,"c":"k","x":0.079,"y":-45},
{"s":20,"c":"g","x":0.013,"y":-45},{"s":20,"c":"g","x":0.021,"y":-33.6},{"s":20,"c":"g","x":0.053,"y":-23.6},{"s":20,"c":"g","x":0.083,"y":-33.6},{"s":20,"c":"g","x":0.09,"y":-45},
{"s":21,"c":"b","x":0.019,"y":-45},{"s":21,"c":"b","x":0.026,"y":-37.4},{"s":21,"c":"b","x":0.053,"y":-27.4},{"s":21,"c":"b","x":0.079,"y":-37.4},{"s":21,"c":"b","x":0.085,"y":-45},
{"s":22,"c":"r","x":0.03,"y":-45},{"s":22,"c":"r","x":0.036,"y":-38.6},{"s":22,"c":"r","x":0.059,"y":-28.6},{"s":22,"c":"r","x":0.084,"y":-38.6},{"s":22,"c":"r","x":0.09,"y":-45},
{"s":23,"c":"c","x":0.079,"y":-45},{"s":23,"c":"c","x":0.084,"y":-30.4},{"s":23,"c":"c","x":0.105,"y":-20.4},{"s":23,"c":"c","x":0.127,"y":-30.4},{"s":23,"c":"c","x":0.133,"y":-45},
{"s":24,"c":"r","x":0.099,"y":-45},{"s":24,"c":"r","x":0.104,"y":-28.4},{"s":24,"c":"r","x":0.122,"y":-18.4},{"s":24,"c":"r","x":0.143,"y":-28.4},{"s":24,"c":"r","x":0.148,"y":-45},
{"s":25,"c":"m","x":0.093,"y":-45},{"s":25,"c":"m","x":0.098,"y":-33.4},{"s":25,"c":"m","x":0.116,"y":-23.4},{"s":25,"c":"m","x":0.137,"y":-33.4},{"s":25,"c":"m","x":0.142,"y":-45},
{"s":26,"c":"g","x":0.09,"y":-45},{"s":26,"c":"g","x":0.096,"y":-34.5},{"s":26,"c":"g","x":0.119,"y":-24.5},{"s":26,"c":"g","x":0.14,"y":-34.5},{"s":26,"c":"g","x":0.145,"y":-45},
{"s":27,"c":"r","x":0.093,"y":-45},{"s":27,"c":"r","x":0.097,"y":-41.9},{"s":27,"c":"r","x":0.113,"y":-31.9},{"s":27,"c":"r","x":0.129,"y":-41.9},{"s":27,"c":"r","x":0.133,"y":-45},
{"s":28,"c":"k","x":0.087,"y":-45},{"s":28,"c":"k","x":0.092,"y":-44},{"s":28,"c":"k","x":0.11,"y":-34},{"s":28,"c":"k","x":0.124,"y":-44},{"s":28,"c":"k","x":0.128,"y":-45},
{"s":29,"c":"m","x":0.134,"y":-45},{"s":29,"c":"m","x":0.14,"y":-29},{"s":29,"c":"m","x":0.162,"y":-19},{"s":29,"c":"m","x":0.188,"y":-29},{"s":29,"c":"m","x":0.194,"y":-45},
{"s":30,"c":"g","x":0.137,"y":-45},{"s":30,"c":"g","x":0.143,"y":-29.2},{"s":30,"c":"g","x":0.165,"y":-19.2},{"s":30,"c":"g","x":0.19,"y":-29.2},{"s":30,"c":"g","x":0.196,"y":-45},
{"s":31,"c":"r","x":0.142,"y":-45},{"s":31,"c":"r","x":0.148,"y":-30},{"s":31,"c":"r","x":0.174,"y":-20},{"s":31,"c":"r","x":0.194,"y":-30},{"s":31,"c":"r","x":0.199,"y":-45},
{"s":32,"c":"k","x":0.134,"y":-45},{"s":32,"c":"k","x":0.14,"y":-33.2},{"s":32,"c":"k","x":0.165,"y":-23.2},{"s":32,"c":"k","x":0.19,"y":-33.2},{"s":32,"c":"k","x":0.196,"y":-45},
{"s":33,"c":"b","x":0.137,"y":-45},{"s":33,"c":"b","x":0.143,"y":-34.3},{"s":33,"c":"b","x":0.165,"y":-24.3},{"s":33,"c":"b","x":0.19,"y":-34.3},{"s":33,"c":"b","x":0.196,"y":-45},
{"s":34,"c":"r","x":0.148,"y":-45},{"s":34,"c":"r","x":0.153,"y":-38.6},{"s":34,"c":"r","x":0.174,"y":-28.6},{"s":34,"c":"r","x":0.192,"y":-38.6},{"s":34,"c":"r","x":0.196,"y":-45},
{"s":35,"c":"b","x":0.195,"y":-45},{"s":35,"c":"b","x":0.2,"y":-28.7},{"s":35,"c":"b","x":0.222,"y":-18.7},{"s":35,"c":"b","x":0.245,"y":-28.7},{"s":35,"c":"b","x":0.251,"y":-45},
{"s":36,"c":"k","x":0.19,"y":-45},{"s":36,"c":"k","x":0.195,"y":-31.2},{"s":36,"c":"k","x":0.216,"y":-21.2},{"s":36,"c":"k","x":0.239,"y":-31.2},{"s":36,"c":"k","x":0.245,"y":-45},
{"s":37,"c":"g","x":0.19,"y":-45},{"s":37,"c":"g","x":0.195,"y":-32},{"s":37,"c":"g","x":0.214,"y":-22},{"s":37,"c":"g","x":0.236,"y":-32},{"s":37,"c":"g","x":0.242,"y":-45},
{"s":38,"c":"c","x":0.193,"y":-45},{"s":38,"c":"c","x":0.198,"y":-32.5},{"s":38,"c":"c","x":0.219,"y":-22.5},{"s":38,"c":"c","x":0.24,"y":-32.5},{"s":38,"c":"c","x":0.245,"y":-45},
{"s":39,"c":"r","x":0.196,"y":-45},{"s":39,"c":"r","x":0.201,"y":-32.8},{"s":39,"c":"r","x":0.219,"y":-22.8},{"s":39,"c":"r","x":0.24,"y":-32.8},{"s":39,"c":"r","x":0.245,"y":-45},
{"s":40,"c":"r","x":0.199,"y":-45},{"s":40,"c":"r","x":0.204,"y":-36.2},{"s":40,"c":"r","x":0.222,"y":-26.2},{"s":40,"c":"r","x":0.24,"y":-36.2},{"s":40,"c":"r","x":0.245,"y":-45},
{"s":41,"c":"b","x":0.254,"y":-45},{"s":41,"c":"b","x":0.26,"y":-28.3},{"s":41,"c":"b","x":0.282,"y":-18.3},{"s":41,"c":"b","x":0.303,"y":-28.3},{"s":41,"c":"b","x":0.308,"y":-45},
{"s":42,"c":"g","x":0.248,"y":-45},{"s":42,"c":"g","x":0.253,"y":-32},{"s":42,"c":"g","x":0.271,"y":-22},{"s":42,"c":"g","x":0.289,"y":-32},{"s":42,"c":"g","x":0.294,"y":-45},
{"s":43,"c":"c","x":0.254,"y":-45},{"s":43,"c":"c","x":0.26,"y":-31.5},{"s":43,"c":"c","x":0.282,"y":-21.5},{"s":43,"c":"c","x":0.303,"y":-31.5},{"s":43,"c":"c","x":0.308,"y":-45},
{"s":44,"c":"r","x":0.257,"y":-45},{"s":44,"c":"r","x":0.263,"y":-31.8},{"s":44,"c":"r","x":0.285,"y":-21.8},{"s":44,"c":"r","x":0.306,"y":-31.8},{"s":44,"c":"r","x":0.311,"y":-45},
{"s":45,"c":"m","x":0.251,"y":-45},{"s":45,"c":"m","x":0.256,"y":-32.6},{"s":45,"c":"m","x":0.277,"y":-22.6},{"s":45,"c":"m","x":0.299,"y":-32.6},{"s":45,"c":"m","x":0.305,"y":-45},
{"s":46,"c":"g","x":0.251,"y":-45},{"s":46,"c":"g","x":0.256,"y":-37.5},{"s":46,"c":"g","x":0.274,"y":-27.5},{"s":46,"c":"g","x":0.292,"y":-37.5},{"s":46,"c":"g","x":0.297,"y":-45},
{"s":47,"c":"m","x":0.306,"y":-45},{"s":47,"c":"m","x":0.312,"y":-28.5},{"s":47,"c":"m","x":0.334,"y":-18.5},{"s":47,"c":"m","x":0.357,"y":-28.5},{"s":47,"c":"m","x":0.363,"y":-45},
{"s":48,"c":"r","x":0.302,"y":-45},{"s":48,"c":"r","x":0.308,"y":-29},{"s":48,"c":"r","x":0.331,"y":-19},{"s":48,"c":"r","x":0.354,"y":-29},{"s":48,"c":"r","x":0.36,"y":-45},
{"s":49,"c":"g","x":0.3,"y":-45},{"s":49,"c":"g","x":0.304,"y":-30},{"s":49,"c":"g","x":0.322,"y":-20},{"s":49,"c":"g","x":0.345,"y":-30},{"s":49,"c":"g","x":0.351,"y":-45},
{"s":50,"c":"c","x":0.311,"y":-45},{"s":50,"c":"c","x":0.316,"y":-33.3},{"s":50,"c":"c","x":0.337,"y":-23.3},{"s":50,"c":"c","x":0.357,"y":-33.3},{"s":50,"c":"c","x":0.362,"y":-45},
{"s":51,"c":"b","x":0.311,"y":-45},{"s":51,"c":"b","x":0.316,"y":-35.5},{"s":51,"c":"b","x":0.334,"y":-25.5},{"s":51,"c":"b","x":0.352,"y":-35.5},{"s":51,"c":"b","x":0.357,"y":-45},
{"s":52,"c":"k","x":0.314,"y":-45},{"s":52,"c":"k","x":0.319,"y":-35.3},{"s":52,"c":"k","x":0.337,"y":-25.3},{"s":52,"c":"k","x":0.355,"y":-35.3},{"s":52,"c":"k","x":0.36,"y":-45},
{"s":53,"c":"g","x":0.288,"y":-45},{"s":53,"c":"g","x":0.293,"y":-39.2},{"s":53,"c":"g","x":0.314,"y":-29.2},{"s":53,"c":"g","x":0.344,"y":-39.2},{"s":53,"c":"g","x":0.351,"y":-45},
{"s":54,"c":"g","x":0.36,"y":-45},{"s":54,"c":"g","x":0.366,"y":-28},{"s":54,"c":"g","x":0.391,"y":-18},{"s":54,"c":"g","x":0.417,"y":-28},{"s":54,"c":"g","x":0.423,"y":-45},
{"s":55,"c":"k","x":0.368,"y":-45},{"s":55,"c":"k","x":0.374,"y":-30.3},{"s":55,"c":"k","x":0.4,"y":-20.3},{"s":55,"c":"k","x":0.425,"y":-30.3},{"s":55,"c":"k","x":0.431,"y":-45},
{"s":56,"c":"m","x":0.365,"y":-45},{"s":56,"c":"m","x":0.37,"y":-33.4},{"s":56,"c":"m","x":0.391,"y":-23.4},{"s":56,"c":"m","x":0.412,"y":-33.4},{"s":56,"c":"m","x":0.417,"y":-45},
{"s":57,"c":"r","x":0.36,"y":-45},{"s":57,"c":"r","x":0.365,"y":-33.8},{"s":57,"c":"r","x":0.386,"y":-23.8},{"s":57,"c":"r","x":0.408,"y":-33.8},{"s":57,"c":"r","x":0.414,"y":-45},
{"s":58,"c":"b","x":0.36,"y":-45},{"s":58,"c":"b","x":0.365,"y":-34.9},{"s":58,"c":"b","x":0.383,"y":-24.9},{"s":58,"c":"b","x":0.403,"y":-34.9},{"s":58,"c":"b","x":0.408,"y":-45},
{"s":59,"c":"g","x":0.377,"y":-45},{"s":59,"c":"g","x":0.381,"y":-40.6},{"s":59,"c":"g","x":0.397,"y":-30.6},{"s":59,"c":"g","x":0.415,"y":-40.6},{"s":59,"c":"g","x":0.42,"y":-45},
{"s":60,"c":"c","x":0.37,"y":-45},{"s":60,"c":"c","x":0.376,"y":-41},{"s":60,"c":"c","x":0.4,"y":-35},{"s":60,"c":"c","x":0.424,"y":-41},{"s":60,"c":"c","x":0.43,"y":-45},
{"s":61,"c":"b","x":0.423,"y":-45},{"s":61,"c":"b","x":0.428,"y":-26.9},{"s":61,"c":"b","x":0.448,"y":-16.9},{"s":61,"c":"b","x":0.469,"y":-26.9},{"s":61,"c":"b","x":0.474,"y":-45},
{"s":62,"c":"k","x":0.428,"y":-45},{"s":62,"c":"k","x":0.433,"y":-28.6},{"s":62,"c":"k","x":0.454,"y":-18.6},{"s":62,"c":"k","x":0.475,"y":-28.6},{"s":62,"c":"k","x":0.48,"y":-45},
{"s":63,"c":"m","x":0.42,"y":-45},{"s":63,"c":"m","x":0.425,"y":-30.8},{"s":63,"c":"m","x":0.445,"y":-20.8},{"s":63,"c":"m","x":0.466,"y":-30.8},{"s":63,"c":"m","x":0.471,"y":-45},
{"s":64,"c":"r","x":0.426,"y":-45},{"s":64,"c":"r","x":0.431,"y":-32.8},{"s":64,"c":"r","x":0.451,"y":-22.8},{"s":64,"c":"r","x":0.472,"y":-32.8},{"s":64,"c":"r","x":0.477,"y":-45},
{"s":65,"c":"c","x":0.431,"y":-45},{"s":65,"c":"c","x":0.435,"y":-35.4},{"s":65,"c":"c","x":0.451,"y":-25.4},{"s":65,"c":"c","x":0.469,"y":-35.4},{"s":65,"c":"c","x":0.474,"y":-45},
{"s":66,"c":"b","x":0.431,"y":-45},{"s":66,"c":"b","x":0.435,"y":-36.4},{"s":66,"c":"b","x":0.451,"y":-26.4},{"s":66,"c":"b","x":0.467,"y":-36.4},{"s":66,"c":"b","x":0.471,"y":-45},
{"s":67,"c":"g","x":0.42,"y":-45},{"s":67,"c":"g","x":0.425,"y":-37.8},{"s":67,"c":"g","x":0.443,"y":-27.8},{"s":67,"c":"g","x":0.459,"y":-37.8},{"s":67,"c":"g","x":0.463,"y":-45},
{"s":68,"c":"r","x":0.48,"y":-45},{"s":68,"c":"r","x":0.484,"y":-26.8},{"s":68,"c":"r","x":0.5,"y":-16.8},{"s":68,"c":"r","x":0.516,"y":-26.8},{"s":68,"c":"r","x":0.52,"y":-45},
{"s":69,"c":"b","x":0.48,"y":-45},{"s":69,"c":"b","x":0.484,"y":-31.4},{"s":69,"c":"b","x":0.5,"y":-21.4},{"s":69,"c":"b","x":0.516,"y":-31.4},{"s":69,"c":"b","x":0.52,"y":-45},
{"s":70,"c":"m","x":0.483,"y":-45},{"s":70,"c":"m","x":0.486,"y":-31.6},{"s":70,"c":"m","x":0.5,"y":-21.6},{"s":70,"c":"m","x":0.514,"y":-31.6},{"s":70,"c":"m","x":0.517,"y":-45},
{"s":71,"c":"b","x":0.483,"y":-45},{"s":71,"c":"b","x":0.486,"y":-35.3},{"s":71,"c":"b","x":0.5,"y":-25.3},{"s":71,"c":"b","x":0.514,"y":-35.3},{"s":71,"c":"b","x":0.517,"y":-45},
{"s":72,"c":"g","x":0.479,"y":-45},{"s":72,"c":"g","x":0.481,"y":-43},{"s":72,"c":"g","x":0.489,"y":-33.6},{"s":72,"c":"g","x":0.498,"y":-43},{"s":72,"c":"g","x":0.5,"y":-45}
],
"f":[
{"s":1,"c":"r","x":-0.07,"y":-45},{"s":1,"c":"r","x":-0.053,"y":-10},{"s":1,"c":"r","x":0.015,"y":0},{"s":1,"c":"r","x":0.083,"y":-10},{"s":1,"c":"r","x":0.1,"y":-45},
{"s":2,"c":"g","x":0.03,"y":-45},{"s":2,"c":"g","x":0.041,"y":-9.6},{"s":2,"c":"g","x":0.084,"y":0.4},{"s":2,"c":"g","x":0.129,"y":-9.6},{"s":2,"c":"g","x":0.14,"y":-45},
{"s":3,"c":"b","x":0.087,"y":-45},{"s":3,"c":"b","x":0.098,"y":-9.6},{"s":3,"c":"b","x":0.141,"y":0.4},{"s":3,"c":"b","x":0.185,"y":-9.6},{"s":3,"c":"b","x":0.196,"y":-45},
{"s":4,"c":"c","x":0.143,"y":-45},{"s":4,"c":"c","x":0.154,"y":-9.6},{"s":4,"c":"c","x":0.198,"y":0.4},{"s":4,"c":"c","x":0.241,"y":-9.6},{"s":4,"c":"c","x":0.252,"y":-45},
{"s":5,"c":"m","x":0.198,"y":-45},{"s":5,"c":"m","x":0.209,"y":-9.4},{"s":5,"c":"m","x":0.253,"y":0.6},{"s":5,"c":"m","x":0.296,"y":-9.4},{"s":5,"c":"m","x":0.307,"y":-45},
{"s":6,"c":"k","x":0.252,"y":-45},{"s":6,"c":"k","x":0.263,"y":-9.6},{"s":6,"c":"k","x":0.307,"y":0.4},{"s":6,"c":"k","x":0.351,"y":-9.6},{"s":6,"c":"k","x":0.362,"y":-45},
{"s":7,"c":"b","x":0.307,"y":-45},{"s":7,"c":"b","x":0.318,"y":-9.5},{"s":7,"c":"b","x":0.361,"y":0.5},{"s":7,"c":"b","x":0.405,"y":-9.5},{"s":7,"c":"b","x":0.416,"y":-45},
{"s":8,"c":"r","x":0.361,"y":-45},{"s":8,"c":"r","x":0.372,"y":-9.7},{"s":8,"c":"r","x":0.415,"y":0.3},{"s":8,"c":"r","x":0.459,"y":-9.7},{"s":8,"c":"r","x":0.47,"y":-45},
{"s":9,"c":"g","x":0.4,"y":-45},{"s":9,"c":"g","x":0.417,"y":-9.8},{"s":9,"c":"g","x":0.485,"y":0.2},{"s":9,"c":"g","x":0.553,"y":-9.8},{"s":9,"c":"g","x":0.57,"y":-45},
{"s":10,"c":"g","x":-0.01,"y":-45},{"s":10,"c":"g","x":-0.008,"y":-26.9},{"s":10,"c":"g","x":0,"y":-16.9},{"s":10,"c":"g","x":0.008,"y":-26.9},{"s":10,"c":"g","x":0.01,"y":-45},
{"s":11,"c":"b","x":-0.021,"y":-45},{"s":11,"c":"b","x":-0.017,"y":-29.1},{"s":11,"c":"b","x":0,"y":-19.1},{"s":11,"c":"b","x":0.017,"y":-29.1},{"s":11,"c":"b","x":0.021,"y":-45},
{"s":12,"c":"m","x":-0.024,"y":-45},{"s":12,"c":"m","x":-0.019,"y":-30.2},{"s":12,"c":"m","x":0,"y":-20.2},{"s":12,"c":"m","x":0.019,"y":-30.2},{"s":12,"c":"m","x":0.024,"y":-45},
{"s":13,"c":"b","x":-0.021,"y":-45},{"s":13,"c":"b","x":-0.017,"y":-31},{"s":13,"c":"b","x":0,"y":-21},{"s":13,"c":"b","x":0.017,"y":-31},{"s":13,"c":"b","x":0.021,"y":-45},
{"s":14,"c":"k","x":0.004,"y":-45},{"s":14,"c":"k","x":0.006,"y":-41.9},{"s":14,"c":"k","x":0.015,"y":-31.9},{"s":14,"c":"k","x":0.025,"y":-41.9},{"s":14,"c":"k","x":0.027,"y":-45},
{"s":15,"c":"r","x":0.01,"y":-45},{"s":15,"c":"r","x":0.012,"y":-44},{"s":15,"c":"r","x":0.018,"y":-35.1},{"s":15,"c":"r","x":0.028,"y":-44},{"s":15,"c":"r","x":0.03,"y":-45},
{"s":16,"c":"b","x":0.021,"y":-45},{"s":16,"c":"b","x":0.028,"y":-27.4},{"s":16,"c":"b","x":0.055,"y":-17.4},{"s":16,"c":"b","x":0.083,"y":-27.4},{"s":16,"c":"b","x":0.09,"y":-45},
{"s":17,"c":"c","x":0.018,"y":-45},{"s":17,"c":"c","x":0.024,"y":-28.6},{"s":17,"c":"c","x":0.05,"y":-18.6},{"s":17,"c":"c","x":0.077,"y":-28.6},{"s":17,"c":"c","x":0.084,"y":-45},
{"s":18,"c":"m","x":0.024,"y":-45},{"s":18,"c":"m","x":0.031,"y":-30},{"s":18,"c":"m","x":0.058,"y":-20},{"s":18,"c":"m","x":0.086,"y":-30},{"s":18,"c":"m","x":0.093,"y":-45},
{"s":19,"c":"g","x":0.015,"y":-45},{"s":19,"c":"g","x":0.022,"y":-30.9},{"s":19,"c":"g","x":0.05,"y":-20.9},{"s":19,"c":"g","x":0.08,"y":-30.9},{"s":19,"c":"g","x":0.087,"y":-45},
{"s":20,"c":"b","x":0.018,"y":-45},{"s":20,"c":"b","x":0.024,"y":-33.6},{"s":20,"c":"b","x":0.05,"y":-23.6},{"s":20,"c":"b","x":0.08,"y":-33.6},{"s":20,"c":"b","x":0.087,"y":-45},
{"s":21,"c":"k","x":0.027,"y":-45},{"s":21,"c":"k","x":0.032,"y":-35.5},{"s":21,"c":"k","x":0.05,"y":-25.5},{"s":21,"c":"k","x":0.071,"y":-35.5},{"s":21,"c":"k","x":0.076,"y":-45},
{"s":22,"c":"r","x":0.033,"y":-45},{"s":22,"c":"r","x":0.039,"y":-37.5},{"s":22,"c":"r","x":0.061,"y":-27.5},{"s":22,"c":"r","x":0.084,"y":-37.5},{"s":22,"c":"r","x":0.09,"y":-45},
{"s":23,"c":"c","x":0.084,"y":-45},{"s":23,"c":"c","x":0.089,"y":-30.8},{"s":23,"c":"c","x":0.107,"y":-20.8},{"s":23,"c":"c","x":0.129,"y":-30.8},{"s":23,"c":"c","x":0.135,"y":-45},
{"s":24,"c":"m","x":0.093,"y":-45},{"s":24,"c":"m","x":0.098,"y":-29.6},{"s":24,"c":"m","x":0.118,"y":-19.6},{"s":24,"c":"m","x":0.139,"y":-29.6},{"s":24,"c":"m","x":0.144,"y":-45},
{"s":25,"c":"r","x":0.1,"y":-45},{"s":25,"c":"r","x":0.105,"y":-30.3},{"s":25,"c":"r","x":0.124,"y":-20.3},{"s":25,"c":"r","x":0.145,"y":-30.3},{"s":25,"c":"r","x":0.15,"y":-45},
{"s":26,"c":"g","x":0.09,"y":-45},{"s":26,"c":"g","x":0.096,"y":-32.8},{"s":26,"c":"g","x":0.118,"y":-22.8},{"s":26,"c":"g","x":0.141,"y":-32.8},{"s":26,"c":"g","x":0.147,"y":-45},
{"s":27,"c":"b","x":0.093,"y":-45},{"s":27,"c":"b","x":0.098,"y":-33.2},{"s":27,"c":"b","x":0.118,"y":-23.2},{"s":27,"c":"b","x":0.139,"y":-33.2},{"s":27,"c":"b","x":0.144,"y":-45},
{"s":28,"c":"r","x":0.084,"y":-45},{"s":28,"c":"r","x":0.089,"y":-39.2},{"s":28,"c":"r","x":0.107,"y":-29.2},{"s":28,"c":"r","x":0.125,"y":-39.2},{"s":28,"c":"r","x":0.13,"y":-45},
{"s":29,"c":"k","x":0.078,"y":-45},{"s":29,"c":"k","x":0.085,"y":-40},{"s":29,"c":"k","x":0.115,"y":-30},{"s":29,"c":"k","x":0.131,"y":-40},{"s":29,"c":"k","x":0.135,"y":-45},
{"s":30,"c":"m","x":0.135,"y":-45},{"s":30,"c":"m","x":0.141,"y":-28.2},{"s":30,"c":"m","x":0.167,"y":-18.2},{"s":30,"c":"m","x":0.192,"y":-28.2},{"s":30,"c":"m","x":0.198,"y":-45},
{"s":31,"c":"r","x":0.147,"y":-45},{"s":31,"c":"r","x":0.153,"y":-27.5},{"s":31,"c":"r","x":0.175,"y":-17.5},{"s":31,"c":"r","x":0.195,"y":-27.5},{"s":31,"c":"r","x":0.2,"y":-45},
{"s":32,"c":"g","x":0.138,"y":-45},{"s":32,"c":"g","x":0.144,"y":-29},{"s":32,"c":"g","x":0.167,"y":-19},{"s":32,"c":"g","x":0.192,"y":-29},{"s":32,"c":"g","x":0.198,"y":-45},
{"s":33,"c":"k","x":0.135,"y":-45},{"s":33,"c":"k","x":0.141,"y":-31.6},{"s":33,"c":"k","x":0.164,"y":-21.6},{"s":33,"c":"k","x":0.186,"y":-31.6},{"s":33,"c":"k","x":0.192,"y":-45},
{"s":34,"c":"b","x":0.135,"y":-45},{"s":34,"c":"b","x":0.141,"y":-33.2},{"s":34,"c":"b","x":0.164,"y":-23.2},{"s":34,"c":"b","x":0.189,"y":-33.2},{"s":34,"c":"b","x":0.195,"y":-45},
{"s":35,"c":"r","x":0.155,"y":-45},{"s":35,"c":"r","x":0.16,"y":-40.3},{"s":35,"c":"r","x":0.178,"y":-30.3},{"s":35,"c":"r","x":0.194,"y":-40.3},{"s":35,"c":"r","x":0.198,"y":-45},
{"s":36,"c":"b","x":0.198,"y":-45},{"s":36,"c":"b","x":0.204,"y":-29.4},{"s":36,"c":"b","x":0.227,"y":-19.4},{"s":36,"c":"b","x":0.247,"y":-29.4},{"s":36,"c":"b","x":0.252,"y":-45},
{"s":37,"c":"g","x":0.192,"y":-45},{"s":37,"c":"g","x":0.197,"y":-29.8},{"s":37,"c":"g","x":0.218,"y":-19.8},{"s":37,"c":"g","x":0.239,"y":-29.8},{"s":37,"c":"g","x":0.244,"y":-45},
{"s":38,"c":"k","x":0.195,"y":-45},{"s":38,"c":"k","x":0.2,"y":-30.8},{"s":38,"c":"k","x":0.221,"y":-20.8},{"s":38,"c":"k","x":0.242,"y":-30.8},{"s":38,"c":"k","x":0.247,"y":-45},
{"s":39,"c":"r","x":0.201,"y":-45},{"s":39,"c":"r","x":0.206,"y":-31.7},{"s":39,"c":"r","x":0.227,"y":-21.7},{"s":39,"c":"r","x":0.247,"y":-31.7},{"s":39,"c":"r","x":0.252,"y":-45},
{"s":40,"c":"c","x":0.192,"y":-45},{"s":40,"c":"c","x":0.197,"y":-30},{"s":40,"c":"c","x":0.215,"y":-20},{"s":40,"c":"c","x":0.236,"y":-30},{"s":40,"c":"c","x":0.241,"y":-45},
{"s":41,"c":"r","x":0.21,"y":-45},{"s":41,"c":"r","x":0.215,"y":-34.9},{"s":41,"c":"r","x":0.233,"y":-24.9},{"s":41,"c":"r","x":0.248,"y":-34.9},{"s":41,"c":"r","x":0.252,"y":-45},
{"s":42,"c":"b","x":0.252,"y":-45},{"s":42,"c":"b","x":0.257,"y":-29.2},{"s":42,"c":"b","x":0.278,"y":-19.2},{"s":42,"c":"b","x":0.301,"y":-29.2},{"s":42,"c":"b","x":0.307,"y":-45},
{"s":43,"c":"r","x":0.258,"y":-45},{"s":43,"c":"r","x":0.263,"y":-29.9},{"s":43,"c":"r","x":0.284,"y":-19.9},{"s":43,"c":"r","x":0.305,"y":-29.9},{"s":43,"c":"r","x":0.31,"y":-45},
{"s":44,"c":"m","x":0.255,"y":-45},{"s":44,"c":"m","x":0.26,"y":-30.3},{"s":44,"c":"m","x":0.281,"y":-20.3},{"s":44,"c":"m","x":0.302,"y":-30.3},{"s":44,"c":"m","x":0.307,"y":-45},
{"s":45,"c":"g","x":0.25,"y":-45},{"s":45,"c":"g","x":0.255,"y":-31.2},{"s":45,"c":"g","x":0.275,"y":-21.2},{"s":45,"c":"g","x":0.296,"y":-31.2},{"s":45,"c":"g","x":0.301,"y":-45},
{"s":46,"c":"g","x":0.252,"y":-45},{"s":46,"c":"g","x":0.256,"y":-34.7},{"s":46,"c":"g","x":0.273,"y":-24.7},{"s":46,"c":"g","x":0.291,"y":-34.7},{"s":46,"c":"g","x":0.295,"y":-45},
{"s":47,"c":"g","x":0.298,"y":-45},{"s":47,"c":"g","x":0.304,"y":-27.1},{"s":47,"c":"g","x":0.327,"y":-17.1},{"s":47,"c":"g","x":0.349,"y":-27.1},{"s":47,"c":"g","x":0.355,"y":-45},
{"s":48,"c":"r","x":0.304,"y":-45},{"s":48,"c":"r","x":0.31,"y":-28.2},{"s":48,"c":"r","x":0.333,"y":-18.2},{"s":48,"c":"r","x":0.355,"y":-28.2},{"s":48,"c":"r","x":0.361,"y":-45},
{"s":49,"c":"m","x":0.307,"y":-45},{"s":49,"c":"m","x":0.313,"y":-28.6},{"s":49,"c":"m","x":0.336,"y":-18.6},{"s":49,"c":"m","x":0.356,"y":-28.6},{"s":49,"c":"m","x":0.361,"y":-45},
{"s":50,"c":"c","x":0.313,"y":-45},{"s":50,"c":"c","x":0.318,"y":-31.4},{"s":50,"c":"c","x":0.338,"y":-21.4},{"s":50,"c":"c","x":0.359,"y":-31.4},{"s":50,"c":"c","x":0.364,"y":-45},
{"s":51,"c":"b","x":0.315,"y":-45},{"s":51,"c":"b","x":0.32,"y":-32.6},{"s":51,"c":"b","x":0.338,"y":-22.6},{"s":51,"c":"b","x":0.356,"y":-32.6},{"s":51,"c":"b","x":0.361,"y":-45},
{"s":52,"c":"r","x":0.313,"y":-45},{"s":52,"c":"r","x":0.317,"y":-32.8},{"s":52,"c":"r","x":0.335,"y":-22.8},{"s":52,"c":"r","x":0.353,"y":-32.8},{"s":52,"c":"r","x":0.358,"y":-45},
{"s":53,"c":"g","x":0.29,"y":-45},{"s":53,"c":"g","x":0.295,"y":-39.2},{"s":53,"c":"g","x":0.313,"y":-29.2},{"s":53,"c":"g","x":0.34,"y":-39.2},{"s":53,"c":"g","x":0.347,"y":-45},
{"s":54,"c":"m","x":0.361,"y":-45},{"s":54,"c":"m","x":0.367,"y":-29},{"s":54,"c":"m","x":0.393,"y":-19},{"s":54,"c":"m","x":0.418,"y":-29},{"s":54,"c":"m","x":0.424,"y":-45},
{"s":55,"c":"k","x":0.373,"y":-45},{"s":55,"c":"k","x":0.379,"y":-31.4},{"s":55,"c":"k","x":0.401,"y":-21.4},{"s":55,"c":"k","x":0.428,"y":-31.4},{"s":55,"c":"k","x":0.435,"y":-45},
{"s":56,"c":"g","x":0.358,"y":-45},{"s":56,"c":"g","x":0.364,"y":-30.4},{"s":56,"c":"g","x":0.387,"y":-20.4},{"s":56,"c":"g","x":0.412,"y":-30.4},{"s":56,"c":"g","x":0.418,"y":-45},
{"s":57,"c":"b","x":0.361,"y":-45},{"s":57,"c":"b","x":0.366,"y":-32.5},{"s":57,"c":"b","x":0.387,"y":-22.5},{"s":57,"c":"b","x":0.408,"y":-32.5},{"s":57,"c":"b","x":0.413,"y":-45},
{"s":58,"c":"r","x":0.364,"y":-45},{"s":58,"c":"r","x":0.369,"y":-32.8},{"s":58,"c":"r","x":0.39,"y":-22.8},{"s":58,"c":"r","x":0.412,"y":-32.8},{"s":58,"c":"r","x":0.418,"y":-45},
{"s":59,"c":"c","x":0.375,"y":-45},{"s":59,"c":"c","x":0.38,"y":-38.8},{"s":59,"c":"c","x":0.398,"y":-28.8},{"s":59,"c":"c","x":0.419,"y":-38.8},{"s":59,"c":"c","x":0.424,"y":-45},
{"s":60,"c":"g","x":0.378,"y":-45},{"s":60,"c":"g","x":0.382,"y":-40.3},{"s":60,"c":"g","x":0.398,"y":-30.3},{"s":60,"c":"g","x":0.416,"y":-40.3},{"s":60,"c":"g","x":0.421,"y":-45},
{"s":61,"c":"k","x":0.427,"y":-45},{"s":61,"c":"k","x":0.432,"y":-28},{"s":61,"c":"k","x":0.453,"y":-18},{"s":61,"c":"k","x":0.475,"y":-28},{"s":61,"c":"k","x":0.481,"y":-45},
{"s":62,"c":"b","x":0.424,"y":-45},{"s":62,"c":"b","x":0.429,"y":-28.9},{"s":62,"c":"b","x":0.447,"y":-18.9},{"s":62,"c":"b","x":0.469,"y":-28.9},{"s":62,"c":"b","x":0.475,"y":-45},
{"s":63,"c":"m","x":0.421,"y":-45},{"s":63,"c":"m","x":0.426,"y":-30.8},{"s":63,"c":"m","x":0.444,"y":-20.8},{"s":63,"c":"m","x":0.467,"y":-30.8},{"s":63,"c":"m","x":0.473,"y":-45},
{"s":64,"c":"r","x":0.427,"y":-45},{"s":64,"c":"r","x":0.432,"y":-31.6},{"s":64,"c":"r","x":0.45,"y":-21.6},{"s":64,"c":"r","x":0.472,"y":-31.6},{"s":64,"c":"r","x":0.478,"y":-45},
{"s":65,"c":"c","x":0.43,"y":-45},{"s":65,"c":"c","x":0.434,"y":-33.3},{"s":65,"c":"c","x":0.45,"y":-23.3},{"s":65,"c":"c","x":0.468,"y":-33.3},{"s":65,"c":"c","x":0.473,"y":-45},
{"s":66,"c":"b","x":0.43,"y":-45},{"s":66,"c":"b","x":0.435,"y":-35},{"s":66,"c":"b","x":0.453,"y":-25},{"s":66,"c":"b","x":0.471,"y":-35},{"s":66,"c":"b","x":0.476,"y":-45},
{"s":67,"c":"g","x":0.421,"y":-45},{"s":67,"c":"g","x":0.425,"y":-37.8},{"s":67,"c":"g","x":0.441,"y":-27.8},{"s":67,"c":"g","x":0.459,"y":-37.8},{"s":67,"c":"g","x":0.464,"y":-45},
{"s":68,"c":"r","x":0.48,"y":-45},{"s":68,"c":"r","x":0.484,"y":-27.2},{"s":68,"c":"r","x":0.5,"y":-17.2},{"s":68,"c":"r","x":0.516,"y":-27.2},{"s":68,"c":"r","x":0.52,"y":-45},
{"s":69,"c":"b","x":0.48,"y":-45},{"s":69,"c":"b","x":0.484,"y":-28.5},{"s":69,"c":"b","x":0.5,"y":-18.5},{"s":69,"c":"b","x":0.516,"y":-28.5},{"s":69,"c":"b","x":0.52,"y":-45},
{"s":70,"c":"m","x":0.483,"y":-45},{"s":70,"c":"m","x":0.486,"y":-29.8},{"s":70,"c":"m","x":0.5,"y":-19.8},{"s":70,"c":"m","x":0.514,"y":-29.8},{"s":70,"c":"m","x":0.517,"y":-45},
{"s":71,"c":"g","x":0.478,"y":-45},{"s":71,"c":"g","x":0.48,"y":-43},{"s":71,"c":"g","x":0.487,"y":-34},{"s":71,"c":"g","x":0.494,"y":-43},{"s":71,"c":"g","x":0.496,"y":-45},
{"s":72,"c":"c","x":0.484,"y":-45},{"s":72,"c":"c","x":0.486,"y":-44},{"s":72,"c":"c","x":0.49,"y":-36.5},{"s":72,"c":"c","x":0.494,"y":-44},{"s":72,"c":"c","x":0.497,"y":-45}
]
},
"vconcat":[
{"hconcat":[
{"vconcat":[{"width":292,"height":230,"data":{"name":"a"},"title":{"text":"Magnitude response of the critically sampled analysis LPPRFB with length L=KM+β","fontSize":6.5,"offset":1.5,"frame":"group"},"mark":{"type":"line","interpolate":"monotone","clip":true,"strokeWidth":1},"encoding":{"x":{"field":"x","type":"quantitative","scale":{"domain":[0,0.5],"nice":false,"zero":false},"axis":{"title":"Normalized Frequency","values":[0,0.05,0.1,0.15,0.2,0.25,0.3,0.35,0.4,0.45,0.5],"format":"~g"}},"y":{"field":"y","type":"quantitative","scale":{"domain":[-40,5],"nice":false,"zero":false},"axis":{"title":"Magnitude (dB)","values":[-40,-35,-30,-25,-20,-15,-10,-5,0,5],"labelExpr":"datum.value < 0 ? '-' + abs(datum.value) : datum.label"}},"color":{"field":"c","type":"nominal","scale":{"domain":["r","g","b","c","m","k"],"range":["#ff0000","#00dd00","#0000ff","#00dddd","#ff00ff","#000000"]},"legend":null},"detail":{"field":"s","type":"nominal"}}}],
 "title":{"text":"(a)\u00a0 8-channel analysis bank","orient":"bottom","font":"Liberation Serif","fontSize":21,"fontWeight":"normal","offset":11.5,"anchor":"middle"}},
{"vconcat":[{"width":292,"height":230,"data":{"name":"b"},"title":{"text":"Magnitude response of the critically sampled synthesis LPPRFB with length L=KM+β","fontSize":6.5,"offset":1.5,"frame":"group"},"mark":{"type":"line","interpolate":"monotone","clip":true,"strokeWidth":1},"encoding":{"x":{"field":"x","type":"quantitative","scale":{"domain":[0,0.5],"nice":false,"zero":false},"axis":{"title":"Normalized Frequency","values":[0,0.05,0.1,0.15,0.2,0.25,0.3,0.35,0.4,0.45,0.5],"format":"~g"}},"y":{"field":"y","type":"quantitative","scale":{"domain":[-40,5],"nice":false,"zero":false},"axis":{"title":"Magnitude (dB)","values":[-40,-35,-30,-25,-20,-15,-10,-5,0,5],"labelExpr":"datum.value < 0 ? '-' + abs(datum.value) : datum.label"}},"color":{"field":"c","type":"nominal","scale":{"domain":["r","g","b","c","m","k"],"range":["#ff0000","#00dd00","#0000ff","#00dddd","#ff00ff","#000000"]},"legend":null},"detail":{"field":"s","type":"nominal"}}}],
 "title":{"text":"(b)\u00a0 8-channel synthesis bank","orient":"bottom","font":"Liberation Serif","fontSize":21,"fontWeight":"normal","offset":11.5,"anchor":"middle"}}
],"spacing":10.3},
{"hconcat":[
{"vconcat":[{"width":292,"height":230,"data":{"name":"c"},"title":{"text":"Magnitude response of the critically sampled analysis LPPRFB with length L=KM+β","fontSize":6.5,"offset":1.5,"frame":"group"},"mark":{"type":"line","interpolate":"monotone","clip":true,"strokeWidth":1},"encoding":{"x":{"field":"x","type":"quantitative","scale":{"domain":[0,0.5],"nice":false,"zero":false},"axis":{"title":"Normalized Frequency","values":[0,0.05,0.1,0.15,0.2,0.25,0.3,0.35,0.4,0.45,0.5],"format":"~g"}},"y":{"field":"y","type":"quantitative","scale":{"domain":[-40,5],"nice":false,"zero":false},"axis":{"title":"Magnitude (dB)","values":[-40,-35,-30,-25,-20,-15,-10,-5,0,5],"labelExpr":"datum.value < 0 ? '-' + abs(datum.value) : datum.label"}},"color":{"field":"c","type":"nominal","scale":{"domain":["r","g","b","c","m","k"],"range":["#ff0000","#00dd00","#0000ff","#00dddd","#ff00ff","#000000"]},"legend":null},"detail":{"field":"s","type":"nominal"}}}],
 "title":{"text":"(c)\u00a0 7-channel analysis bank","orient":"bottom","font":"Liberation Serif","fontSize":21,"fontWeight":"normal","offset":11.5,"anchor":"middle"}},
{"vconcat":[{"width":292,"height":230,"data":{"name":"d"},"title":{"text":"Magnitude response of the critically sampled synthesis LPPRFB with length L=KM+β","fontSize":6.5,"offset":1.5,"frame":"group"},"mark":{"type":"line","interpolate":"monotone","clip":true,"strokeWidth":1},"encoding":{"x":{"field":"x","type":"quantitative","scale":{"domain":[0,0.5],"nice":false,"zero":false},"axis":{"title":"Normalized Frequency","values":[0,0.05,0.1,0.15,0.2,0.25,0.3,0.35,0.4,0.45,0.5],"format":"~g"}},"y":{"field":"y","type":"quantitative","scale":{"domain":[-40,5],"nice":false,"zero":false},"axis":{"title":"Magnitude (dB)","values":[-40,-35,-30,-25,-20,-15,-10,-5,0,5],"labelExpr":"datum.value < 0 ? '-' + abs(datum.value) : datum.label"}},"color":{"field":"c","type":"nominal","scale":{"domain":["r","g","b","c","m","k"],"range":["#ff0000","#00dd00","#0000ff","#00dddd","#ff00ff","#000000"]},"legend":null},"detail":{"field":"s","type":"nominal"}}}],
 "title":{"text":"(d)\u00a0 7-channel synthesis bank","orient":"bottom","font":"Liberation Serif","fontSize":21,"fontWeight":"normal","offset":11.5,"anchor":"middle"}}
],"spacing":10.3},
{"hconcat":[
{"vconcat":[{"width":292,"height":230,"data":{"name":"e"},"title":{"text":"Magnitude response of the critically sampled analysis LPPRFB with length L=KM+β","fontSize":6.5,"offset":1.5,"frame":"group"},"mark":{"type":"line","interpolate":"monotone","clip":true,"strokeWidth":1},"encoding":{"x":{"field":"x","type":"quantitative","scale":{"domain":[0,0.5],"nice":false,"zero":false},"axis":{"title":"Normalized Frequency","values":[0,0.05,0.1,0.15,0.2,0.25,0.3,0.35,0.4,0.45,0.5],"format":"~g"}},"y":{"field":"y","type":"quantitative","scale":{"domain":[-40,5],"nice":false,"zero":false},"axis":{"title":"Magnitude (dB)","values":[-40,-35,-30,-25,-20,-15,-10,-5,0,5],"labelExpr":"datum.value < 0 ? '-' + abs(datum.value) : datum.label"}},"color":{"field":"c","type":"nominal","scale":{"domain":["r","g","b","c","m","k"],"range":["#ff0000","#00dd00","#0000ff","#00dddd","#ff00ff","#000000"]},"legend":null},"detail":{"field":"s","type":"nominal"}}}],
 "title":{"text":"(e)\u00a0 9-channel analysis bank","orient":"bottom","font":"Liberation Serif","fontSize":21,"fontWeight":"normal","offset":11.5,"anchor":"middle"}},
{"vconcat":[{"width":292,"height":230,"data":{"name":"f"},"title":{"text":"Magnitude response of the critically sampled synthesis LPPRFB with length L=KM+β","fontSize":6.5,"offset":1.5,"frame":"group"},"mark":{"type":"line","interpolate":"monotone","clip":true,"strokeWidth":1},"encoding":{"x":{"field":"x","type":"quantitative","scale":{"domain":[0,0.5],"nice":false,"zero":false},"axis":{"title":"Normalized Frequency","values":[0,0.05,0.1,0.15,0.2,0.25,0.3,0.35,0.4,0.45,0.5],"format":"~g"}},"y":{"field":"y","type":"quantitative","scale":{"domain":[-40,5],"nice":false,"zero":false},"axis":{"title":"Magnitude (dB)","values":[-40,-35,-30,-25,-20,-15,-10,-5,0,5],"labelExpr":"datum.value < 0 ? '-' + abs(datum.value) : datum.label"}},"color":{"field":"c","type":"nominal","scale":{"domain":["r","g","b","c","m","k"],"range":["#ff0000","#00dd00","#0000ff","#00dddd","#ff00ff","#000000"]},"legend":null},"detail":{"field":"s","type":"nominal"}}}],
 "title":{"text":"(f)\u00a0 9-channel synthesis bank","orient":"bottom","font":"Liberation Serif","fontSize":21,"fontWeight":"normal","offset":11.5,"anchor":"middle"}}
],"spacing":10.3}
]
}
